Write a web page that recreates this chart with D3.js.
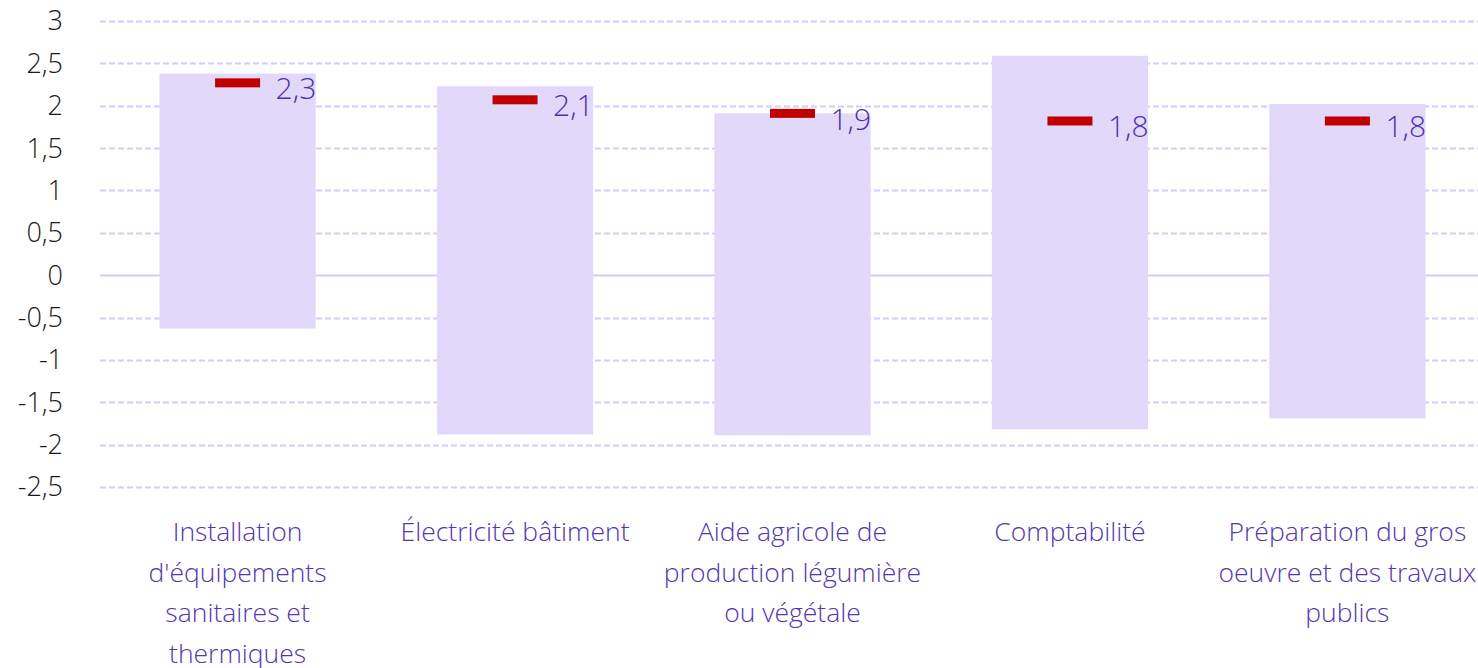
<!DOCTYPE html>
<head>
    <meta charset="utf-8">
    <title>Fourchettes par métier</title>
    <style>
        body { margin: 0; background: #fff; }
        text { font-family: "Open Sans", "Lato", sans-serif; font-weight: 300; }
    </style>
</head>
<body>
<svg width="1478" height="668"></svg>
<script src="https://d3js.org/d3.v7.min.js"></script>
<script>

    // data
    var metiers = [
        ["Installation", "d'équipements", "sanitaires et", "thermiques"],
        ["Électricité bâtiment"],
        ["Aide agricole de", "production légumière", "ou végétale"],
        ["Comptabilité"],
        ["Préparation du gros", "oeuvre et des travaux", "publics"]
    ];
    var basVals  = [-0.63, -1.88, -1.89, -1.82, -1.69];   // bottom of the range bar
    var hautVals = [2.38, 2.23, 1.91, 2.59, 2.02];        // top of the range bar
    var moyennes = [2.27, 2.07, 1.91, 1.82, 1.82];        // red marker
    var etiquettes = ["2,3", "2,1", "1,9", "1,8", "1,8"];
    var yTicks = [3, 2.5, 2, 1.5, 1, 0.5, 0, -0.5, -1, -1.5, -2, -2.5];

    var svg = d3.select("svg"),
        margin = {top: 21, right: -8, bottom: 181, left: 99},
        width = +svg.attr("width") - margin.left - margin.right,
        height = +svg.attr("height") - margin.top - margin.bottom;

    var data = metiers.map(function(m, i) {
        return {i: i, lab: m, lo: basVals[i], hi: hautVals[i], moy: moyennes[i], txt: etiquettes[i]};
    });

    var x = d3.scaleBand().domain(d3.range(metiers.length)).range([0, width]).paddingInner(0.437).paddingOuter(0.218),
        y = d3.scaleLinear().domain([-2.5, 3]).range([height, 0]);

    var g = svg.append("g")
        .attr("transform", "translate(" + margin.left + "," + margin.top + ")");

    // grid
    g.selectAll(".grid")
        .data(yTicks)
        .enter().append("line")
        .attr("x1", 1).attr("x2", width)
        .attr("y1", function(d) { return Math.round(y(d)) + 0.5; })
        .attr("y2", function(d) { return Math.round(y(d)) + 0.5; })
        .style("stroke", "#d6cbf6")
        .style("stroke-width", 2)
        .style("stroke-dasharray", function(d) { return d === 0 ? null : "6,3"; });

    // y tick labels
    g.selectAll(".ytick")
        .data(yTicks)
        .enter().append("text")
        .attr("x", -36)
        .attr("y", function(d) { return y(d); })
        .attr("dy", ".35em")
        .style("text-anchor", "end")
        .style("font-size", "27px")
        .style("fill", "#1a1a1a")
        .text(function(d) { return String(d).replace(".", ","); });

    // range bars
    g.selectAll(".bar")
        .data(data)
        .enter().append("rect")
        .attr("x", function(d) { return x(d.i); })
        .attr("width", x.bandwidth())
        .attr("y", function(d) { return y(d.hi); })
        .attr("height", function(d) { return y(d.lo) - y(d.hi); })
        .style("fill", "#e2d8f9");

    // red markers
    g.selectAll(".moy")
        .data(data)
        .enter().append("rect")
        .attr("x", function(d) { return x(d.i) + x.bandwidth() / 2 - 22.5; })
        .attr("width", 45)
        .attr("y", function(d) { return y(d.moy) - 4.5; })
        .attr("height", 9)
        .style("fill", "#c00000");

    g.selectAll(".val")
        .data(data)
        .enter().append("text")
        .attr("x", function(d) { return x(d.i) + x.bandwidth() / 2 + 38; })
        .attr("y", function(d) { return y(d.moy) + 6; })
        .attr("dy", ".35em")
        .style("font-size", "30px")
        .style("fill", "#5030a8")
        .text(function(d) { return d.txt; });

    // category labels
    var cat = g.selectAll(".cat")
        .data(data)
        .enter().append("text")
        .attr("x", function(d) { return x(d.i) + x.bandwidth() / 2; })
        .attr("y", height + 45)
        .attr("dy", ".35em")
        .style("text-anchor", "middle")
        .style("font-size", "26.5px")
        .style("fill", "#5536b0");

    cat.selectAll("tspan")
        .data(function(d) { return d.lab; })
        .enter().append("tspan")
        .attr("x", function() { return d3.select(this.parentNode).attr("x"); })
        .attr("dy", function(d, i) { return i === 0 ? ".35em" : "40.5px"; })
        .text(function(d) { return d; });

</script>
</body>
